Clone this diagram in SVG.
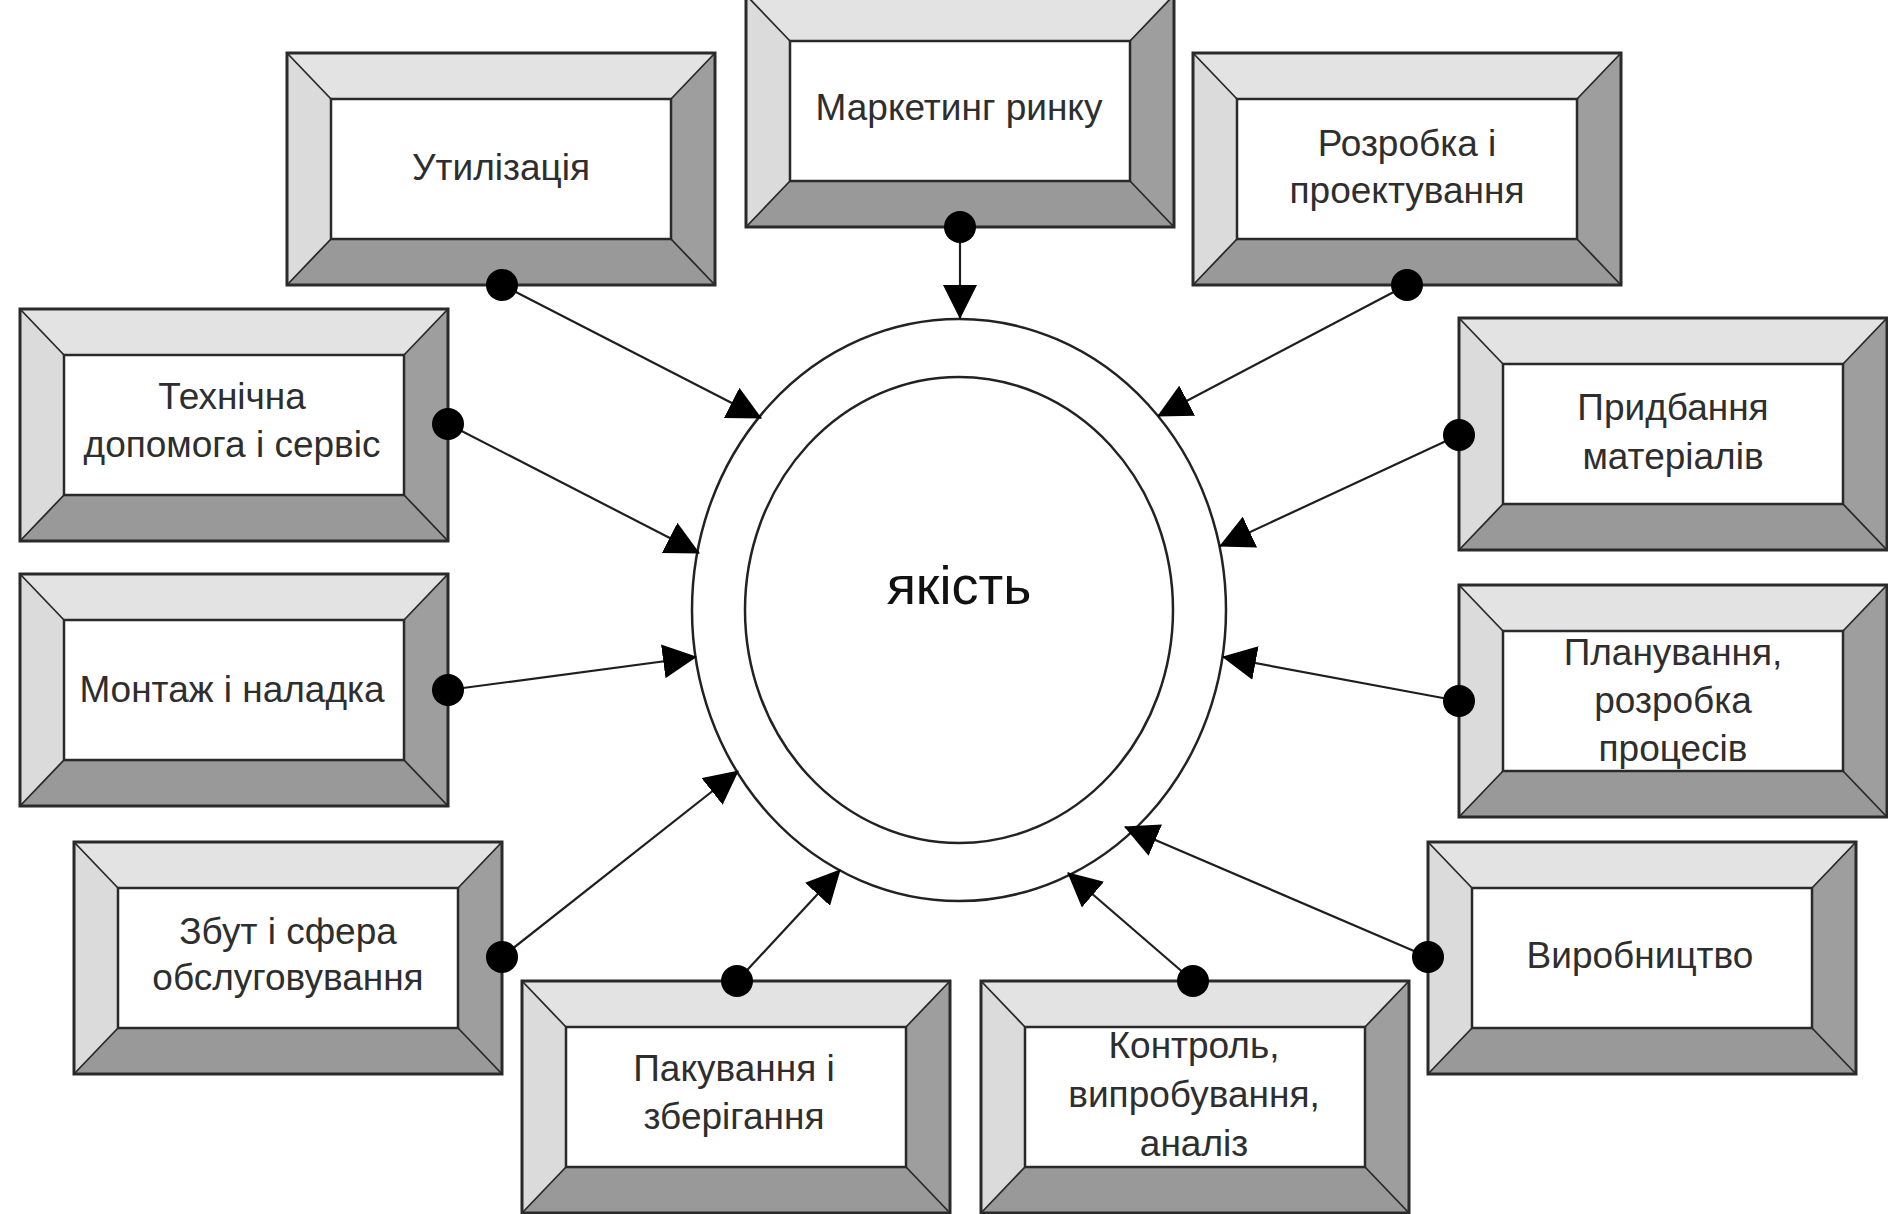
<svg xmlns="http://www.w3.org/2000/svg" xmlns:xlink="http://www.w3.org/1999/xlink" width="1888" height="1214" viewBox="0 0 1888 1214">
<style>
.lbl{font-family:"Liberation Sans",Arial,sans-serif;font-size:37px;fill:#2e2e2e;text-anchor:middle}
.big{font-family:"Liberation Sans",Arial,sans-serif;font-size:54px;fill:#111;text-anchor:middle}
.conn{stroke:#1e1e1e;stroke-width:2.2;fill:none}
.dot{fill:#000}
.ring{fill:none;stroke:#222;stroke-width:2.5}
</style>
<defs>
<marker id="arr" viewBox="0 0 34 34" refX="33" refY="17" markerWidth="34" markerHeight="34" markerUnits="userSpaceOnUse" orient="auto">
<path d="M0,0 L34,17 L0,34 Z" fill="#000"/>
</marker>
<g id="bevel">
<polygon points="0,0 428,0 384,46 44,46" fill="#e3e3e3"/>
<polygon points="0,0 44,46 44,186 0,232" fill="#dbdbdb"/>
<polygon points="428,0 428,232 384,186 384,46" fill="#9e9e9e"/>
<polygon points="0,232 44,186 384,186 428,232" fill="#999"/>
<rect x="44" y="46" width="340" height="140" fill="#fff" stroke="#2a2a2a" stroke-width="2.5"/>
<path d="M0,0 L44,46 M428,0 L384,46 M0,232 L44,186 M428,232 L384,186" stroke="#2a2a2a" stroke-width="1.8"/>
<rect x="0" y="0" width="428" height="232" fill="none" stroke="#2a2a2a" stroke-width="3"/>
</g>
</defs>
<rect width="1888" height="1214" fill="#fff"/>

<g id="center">
<ellipse class="ring" cx="959" cy="610" rx="267" ry="291"/>
<ellipse class="ring" cx="959" cy="610" rx="214" ry="233"/>
<text class="big" x="959" y="604">якість</text>
</g>

<g id="n-utilizatsiia">
<use xlink:href="#bevel" x="287" y="53"/>
<text class="lbl" x="501" y="180">Утилізація</text>
</g>
<g id="n-marketynh">
<use xlink:href="#bevel" x="746" y="-5"/>
<text class="lbl" x="959" y="120">Маркетинг ринку</text>
</g>
<g id="n-rozrobka">
<use xlink:href="#bevel" x="1193" y="53"/>
<text class="lbl" x="1407" y="156">Розробка і</text>
<text class="lbl" x="1407" y="203">проектування</text>
</g>
<g id="n-prydbannia">
<use xlink:href="#bevel" x="1459" y="318"/>
<text class="lbl" x="1673" y="420">Придбання</text>
<text class="lbl" x="1673" y="469">матеріалів</text>
</g>
<g id="n-planuvannia">
<use xlink:href="#bevel" x="1459" y="585"/>
<text class="lbl" x="1673" y="665">Планування,</text>
<text class="lbl" x="1673" y="713">розробка</text>
<text class="lbl" x="1673" y="761">процесів</text>
</g>
<g id="n-vyrobnytstvo">
<use xlink:href="#bevel" x="1428" y="842"/>
<text class="lbl" x="1640" y="968">Виробництво</text>
</g>
<g id="n-kontrol">
<use xlink:href="#bevel" x="981" y="981"/>
<text class="lbl" x="1194" y="1058">Контроль,</text>
<text class="lbl" x="1194" y="1107">випробування,</text>
<text class="lbl" x="1194" y="1156">аналіз</text>
</g>
<g id="n-pakuvannia">
<use xlink:href="#bevel" x="522" y="981"/>
<text class="lbl" x="734" y="1081">Пакування і</text>
<text class="lbl" x="734" y="1129">зберігання</text>
</g>
<g id="n-zbut">
<use xlink:href="#bevel" x="74" y="842"/>
<text class="lbl" x="288" y="944">Збут і сфера</text>
<text class="lbl" x="288" y="990">обслуговування</text>
</g>
<g id="n-montazh">
<use xlink:href="#bevel" x="20" y="574"/>
<text class="lbl" x="232" y="702">Монтаж і наладка</text>
</g>
<g id="n-tekhnichna">
<use xlink:href="#bevel" x="20" y="309"/>
<text class="lbl" x="232" y="409">Технічна</text>
<text class="lbl" x="232" y="457">допомога і сервіс</text>
</g>

<g id="connectors">
<line class="conn" x1="502" y1="285" x2="761" y2="418" marker-end="url(#arr)"/>
<line class="conn" x1="960" y1="227" x2="960" y2="318" marker-end="url(#arr)"/>
<line class="conn" x1="1407" y1="285" x2="1158" y2="416" marker-end="url(#arr)"/>
<line class="conn" x1="1459" y1="435" x2="1220" y2="546" marker-end="url(#arr)"/>
<line class="conn" x1="1459" y1="701" x2="1223" y2="657" marker-end="url(#arr)"/>
<line class="conn" x1="1428" y1="957" x2="1125" y2="827" marker-end="url(#arr)"/>
<line class="conn" x1="1193" y1="981" x2="1068" y2="873" marker-end="url(#arr)"/>
<line class="conn" x1="737" y1="981" x2="840" y2="870" marker-end="url(#arr)"/>
<line class="conn" x1="502" y1="957" x2="738" y2="771" marker-end="url(#arr)"/>
<line class="conn" x1="448" y1="690" x2="696" y2="657" marker-end="url(#arr)"/>
<line class="conn" x1="448" y1="424" x2="699" y2="553" marker-end="url(#arr)"/>
<circle class="dot" cx="502" cy="285" r="16"/>
<circle class="dot" cx="960" cy="227" r="16"/>
<circle class="dot" cx="1407" cy="285" r="16"/>
<circle class="dot" cx="1459" cy="435" r="16"/>
<circle class="dot" cx="1459" cy="701" r="16"/>
<circle class="dot" cx="1428" cy="957" r="16"/>
<circle class="dot" cx="1193" cy="981" r="16"/>
<circle class="dot" cx="737" cy="981" r="16"/>
<circle class="dot" cx="502" cy="957" r="16"/>
<circle class="dot" cx="448" cy="690" r="16"/>
<circle class="dot" cx="448" cy="424" r="16"/>
</g>
</svg>
